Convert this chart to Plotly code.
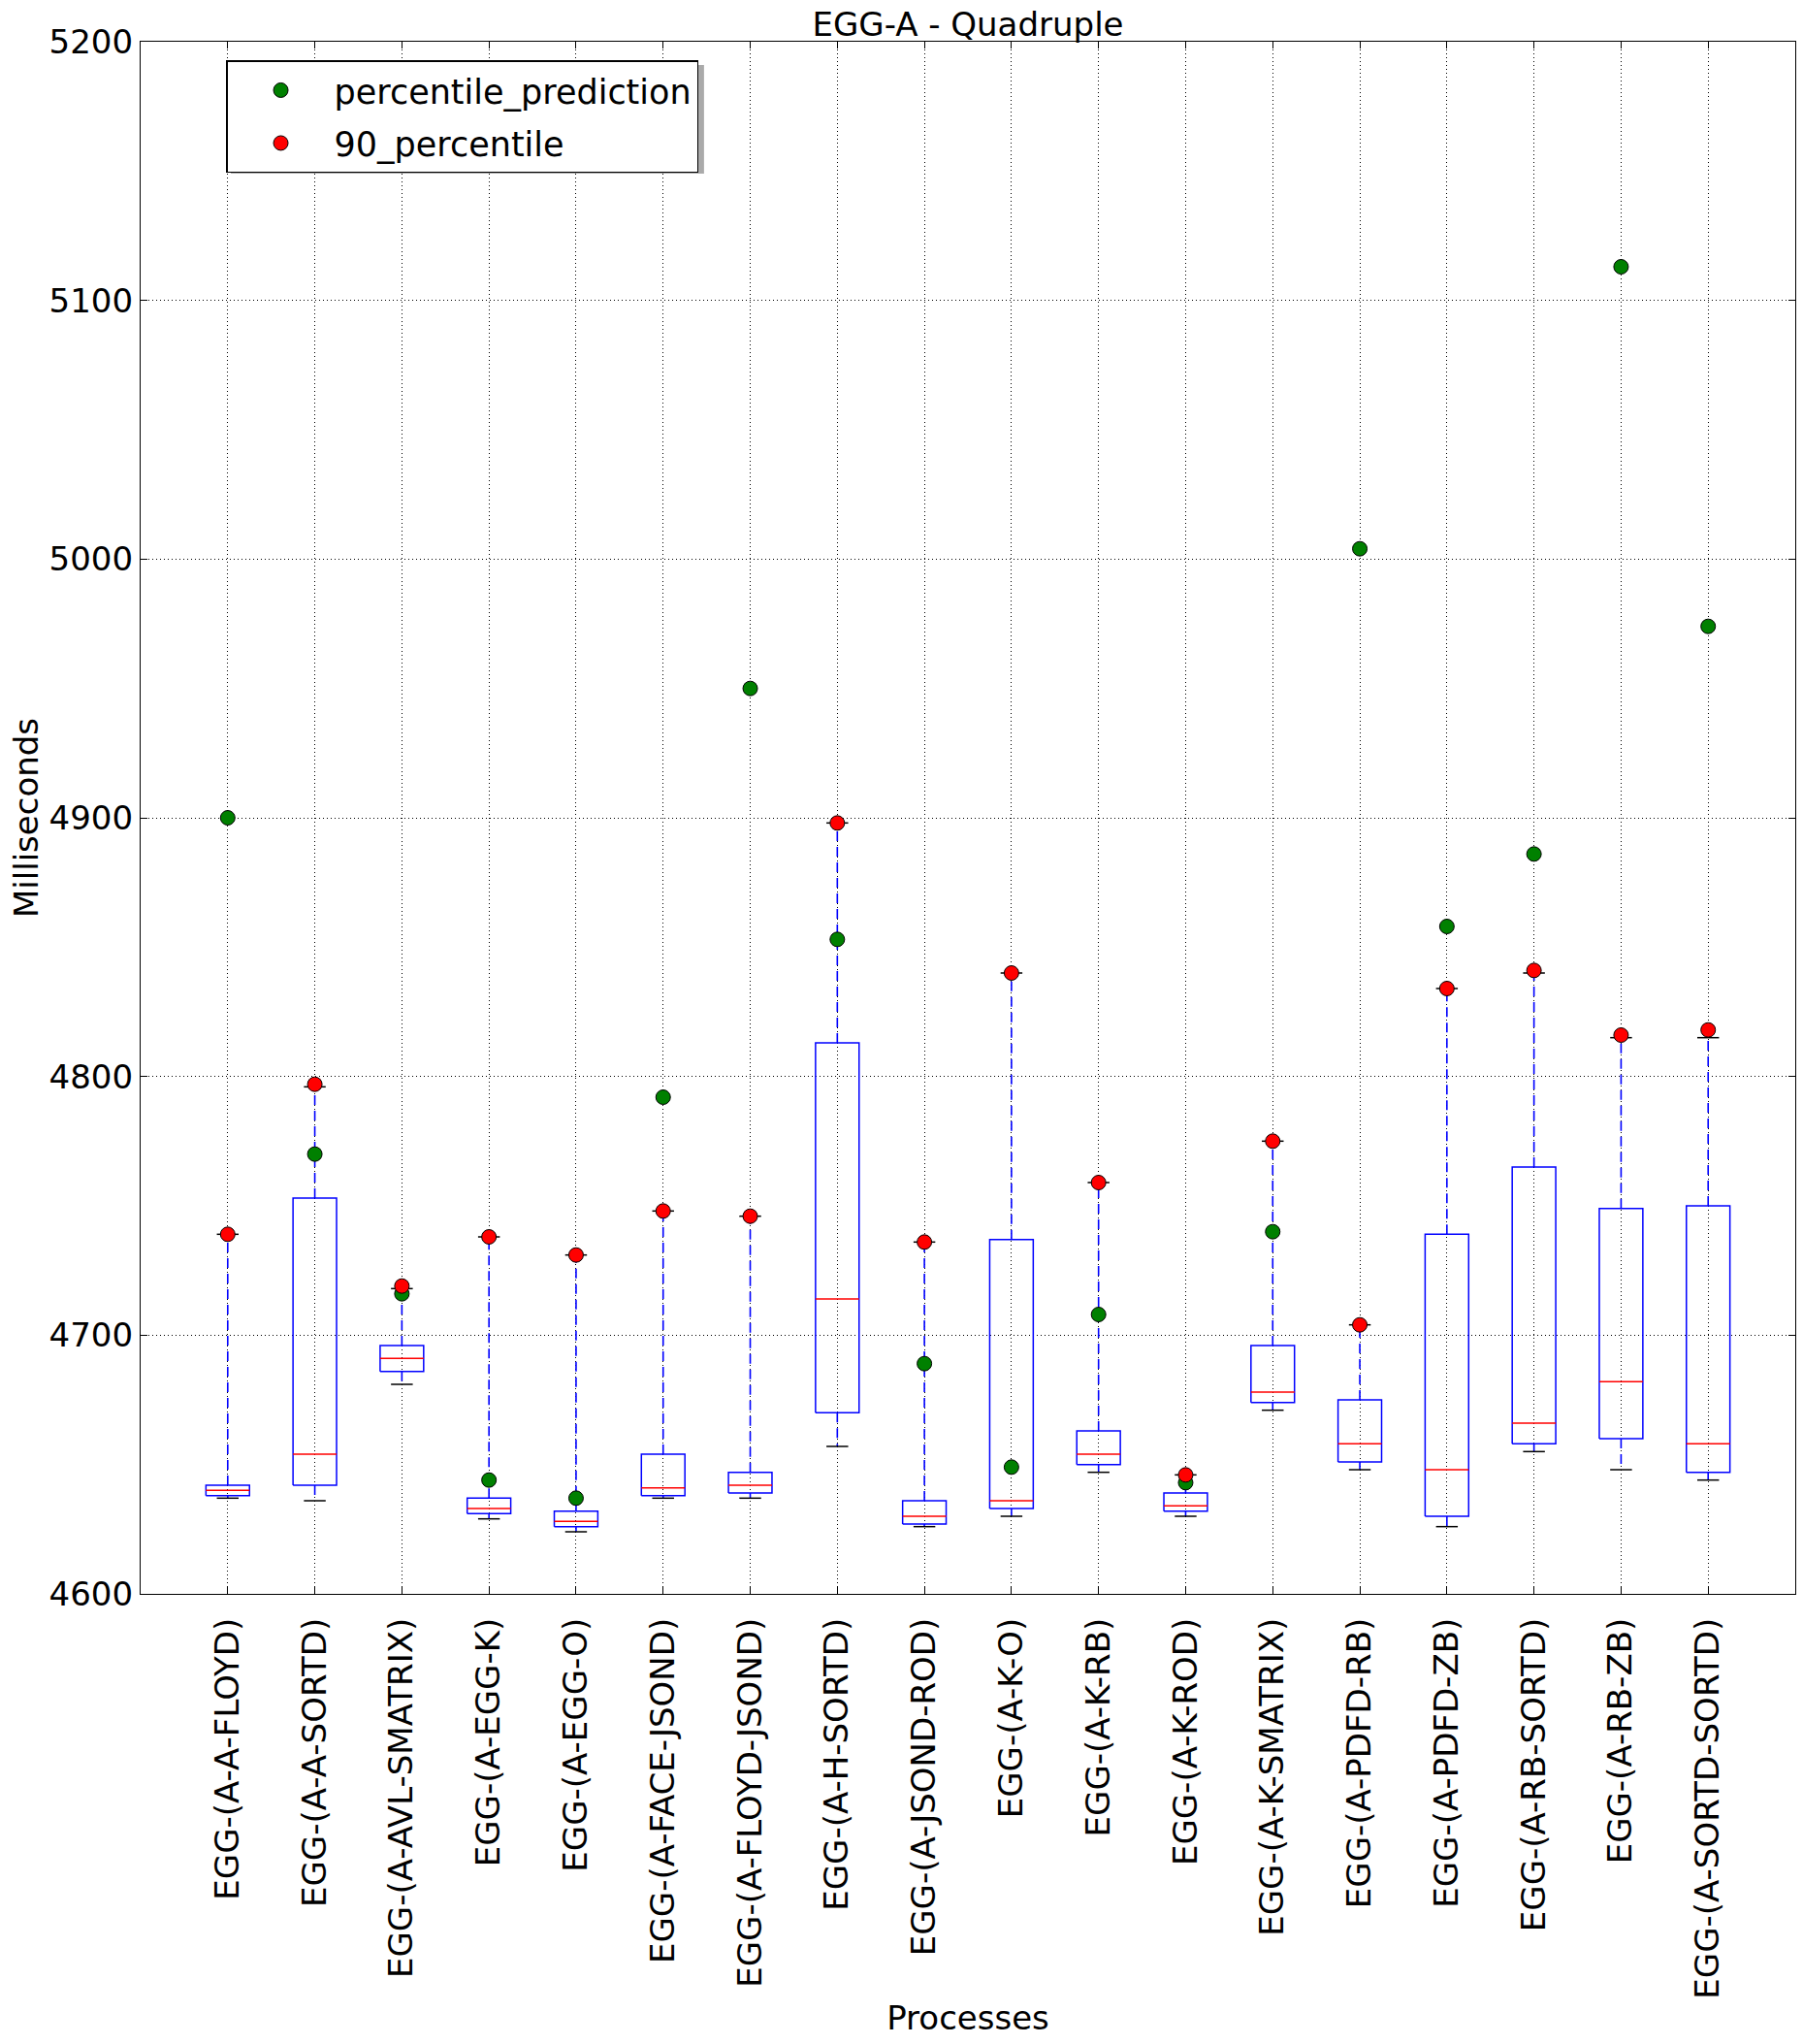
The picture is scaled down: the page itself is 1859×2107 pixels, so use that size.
import plotly.graph_objects as go

categories = [
    "EGG-(A-A-FLOYD)", "EGG-(A-A-SORTD)", "EGG-(A-AVL-SMATRIX)", "EGG-(A-EGG-K)",
    "EGG-(A-EGG-O)", "EGG-(A-FACE-JSOND)", "EGG-(A-FLOYD-JSOND)", "EGG-(A-H-SORTD)",
    "EGG-(A-JSOND-ROD)", "EGG-(A-K-O)", "EGG-(A-K-RB)", "EGG-(A-K-ROD)",
    "EGG-(A-K-SMATRIX)", "EGG-(A-PDFD-RB)", "EGG-(A-PDFD-ZB)", "EGG-(A-RB-SORTD)",
    "EGG-(A-RB-ZB)", "EGG-(A-SORTD-SORTD)",
]
whisker_low = [4637, 4636, 4681, 4629, 4624, 4637, 4637, 4657, 4626, 4630, 4647, 4630, 4671, 4648, 4626, 4655, 4648, 4644]
q1 = [4638, 4642, 4686, 4631, 4626, 4638, 4639, 4670, 4627, 4633, 4650, 4632, 4674, 4651, 4630, 4658, 4660, 4647]
median = [4640, 4654, 4691, 4633, 4628, 4641, 4642, 4714, 4630, 4636, 4654, 4634, 4678, 4658, 4648, 4666, 4682, 4658]
q3 = [4642, 4753, 4696, 4637, 4632, 4654, 4647, 4813, 4636, 4737, 4663, 4639, 4696, 4675, 4739, 4765, 4749, 4750]
whisker_high = [4739, 4796, 4718, 4738, 4731, 4748, 4746, 4898, 4736, 4840, 4759, 4646, 4775, 4704, 4834, 4840, 4815, 4815]
p90 = [4739, 4797, 4719, 4738, 4731, 4748, 4746, 4898, 4736, 4840, 4759, 4646, 4775, 4704, 4834, 4841, 4816, 4818]
prediction = [4900, 4770, 4716, 4644, 4637, 4792, 4950, 4853, 4689, 4649, 4708, 4643, 4740, 5004, 4858, 4886, 5113, 4974]
y_ticks = [4600, 4700, 4800, 4900, 5000, 5100, 5200]

positions = list(range(1, len(categories) + 1))
HALF_BOX = 0.25
HALF_CAP = 0.125
FONT = dict(family="DejaVu Sans", size=34, color="black")

box_x, box_y = [], []
med_x, med_y = [], []
wh_x, wh_y = [], []
cap_x, cap_y = [], []
for p, lo, a, m, b, hi in zip(positions, whisker_low, q1, median, q3, whisker_high):
    box_x += [p - HALF_BOX, p + HALF_BOX, p + HALF_BOX, p - HALF_BOX, p - HALF_BOX, None]
    box_y += [a, a, b, b, a, None]
    med_x += [p - HALF_BOX, p + HALF_BOX, None]
    med_y += [m, m, None]
    wh_x += [p, p, None, p, p, None]
    wh_y += [b, hi, None, a, lo, None]
    cap_x += [p - HALF_CAP, p + HALF_CAP, None, p - HALF_CAP, p + HALF_CAP, None]
    cap_y += [hi, hi, None, lo, lo, None]

fig = go.Figure()
fig.add_trace(go.Scatter(x=wh_x, y=wh_y, mode="lines", showlegend=False, hoverinfo="skip",
                         line=dict(color="#0000ff", width=1.6, dash="10px,6px")))
fig.add_trace(go.Scatter(x=box_x, y=box_y, mode="lines", showlegend=False, hoverinfo="skip",
                         line=dict(color="#0000ff", width=1.5)))
fig.add_trace(go.Scatter(x=cap_x, y=cap_y, mode="lines", showlegend=False, hoverinfo="skip",
                         line=dict(color="black", width=1.5)))
fig.add_trace(go.Scatter(x=med_x, y=med_y, mode="lines", showlegend=False, hoverinfo="skip",
                         line=dict(color="#ff0000", width=1.5)))
fig.add_trace(go.Scatter(x=positions, y=prediction, mode="markers", name="percentile_prediction",
                         legendgroup="pred",
                         marker=dict(color="#008000", size=15, line=dict(color="black", width=1))))
fig.add_trace(go.Scatter(x=positions, y=p90, mode="markers", name="90_percentile",
                         legendgroup="p90",
                         marker=dict(color="#ff0000", size=15, line=dict(color="black", width=1))))

axis_common = dict(
    showline=True, linecolor="black", linewidth=1.3, mirror="ticks",
    ticks="inside", ticklen=7, tickcolor="black", tickwidth=1,
    showgrid=True, gridcolor="black", gridwidth=1, griddash="1px,3px",
    zeroline=False, tickfont=FONT,
)

fig.update_layout(
    width=1859, height=2107,
    margin=dict(l=145, r=8, t=43, b=464),
    paper_bgcolor="white", plot_bgcolor="white",
    font=FONT,
    title=dict(text="EGG-A - Quadruple", font=FONT, x=0.5, xanchor="center",
               xref="paper", y=1, yref="paper", yanchor="bottom", pad=dict(b=6)),
    xaxis=dict(range=[0, 19], tickvals=positions, ticktext=categories, tickangle=-90,
               ticklabelstandoff=10,
               title=dict(text="Processes", font=FONT, standoff=8), **axis_common),
    yaxis=dict(range=[4600, 5200], tickvals=y_ticks, ticktext=[str(v) for v in y_ticks],
               title=dict(text="Milliseconds", font=FONT, standoff=0), **axis_common),
    legend=dict(x=0.0516, y=0.988, xanchor="left", yanchor="top", bgcolor="white",
                bordercolor="black", borderwidth=1.5, font=dict(family="DejaVu Sans", size=35, color="black"),
                itemwidth=100, tracegroupgap=6),
    shapes=[dict(type="rect", xref="paper", yref="paper", layer="above",
                 x0=0.0545, x1=0.3405, y0=0.9150, y1=0.9850,
                 fillcolor="#aaaaaa", line=dict(width=0))],
)

fig.write_html("out.html", config={"displayModeBar": False},
               post_script="document.body.style.margin='0';")
